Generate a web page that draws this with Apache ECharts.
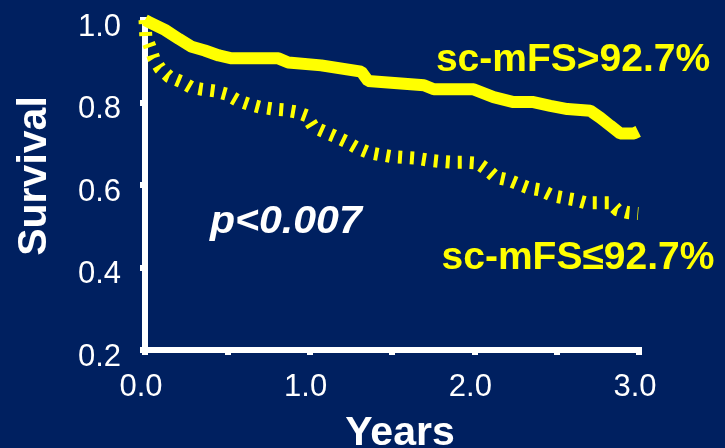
<!DOCTYPE html>
<html>
<head>
<meta charset="utf-8">
<script src="https://cdn.jsdelivr.net/npm/echarts@6/dist/echarts.min.js"></script>
<style>
  html, body { margin: 0; padding: 0; background: #002060; }
  #chart { width: 725px; height: 448px; }
</style>
</head>
<body>
<div id="chart"></div>
<script>
// Kaplan–Meier survival by sc-mFS group (years vs. survival probability)
const highYears = [0, 0.024, 0.121, 0.206, 0.284, 0.363, 0.448, 0.526, 0.81, 0.87, 1.07, 1.313, 1.355, 1.694, 1.754, 1.996, 2.117, 2.238, 2.359, 2.462, 2.565, 2.704, 2.765, 2.825, 2.886, 2.97, 2.995];
const highSurvival = [1.0, 0.995, 0.976, 0.954, 0.935, 0.926, 0.914, 0.907, 0.907, 0.897, 0.890, 0.875, 0.852, 0.842, 0.832, 0.832, 0.813, 0.801, 0.801, 0.792, 0.784, 0.780, 0.763, 0.744, 0.725, 0.725, 0.73];

const lowYears = [0, 0.005, 0.030, 0.054, 0.091, 0.145, 0.218, 0.278, 0.345, 0.423, 0.496, 0.557, 0.629, 0.696, 0.780, 0.847, 0.920, 0.980, 1.022, 1.089, 1.149, 1.222, 1.283, 1.355, 1.422, 1.494, 1.573, 1.645, 1.724, 1.797, 1.869, 1.942, 2.021, 2.081, 2.129, 2.208, 2.269, 2.329, 2.402, 2.474, 2.541, 2.613, 2.674, 2.825, 2.868, 2.934, 2.995];
const lowSurvival = [1.0, 0.96, 0.935, 0.907, 0.883, 0.863, 0.851, 0.837, 0.832, 0.828, 0.820, 0.806, 0.796, 0.789, 0.784, 0.782, 0.777, 0.768, 0.741, 0.729, 0.719, 0.705, 0.691, 0.679, 0.674, 0.669, 0.667, 0.665, 0.660, 0.657, 0.655, 0.655, 0.653, 0.636, 0.619, 0.612, 0.602, 0.593, 0.588, 0.574, 0.569, 0.564, 0.557, 0.557, 0.540, 0.533, 0.531];

const xTicks = [0, 0.5, 1.0, 1.5, 2.0, 2.5, 3.0];
const yTicks = [0.2, 0.4, 0.6, 0.8, 1.0];
const groupLabels = ['sc-mFS>92.7%', 'sc-mFS\u226492.7%'];
const pValueText = 'p<0.007';

const FONT = '"Liberation Sans", Arial, Helvetica, sans-serif';
const WHITE = '#ffffff';
const YELLOW = '#ffff00';

const pairs = (xs, ys) => xs.map((x, i) => [x, ys[i]]);

const chart = echarts.init(document.getElementById('chart'), null, { renderer: 'canvas' });

chart.setOption({
  backgroundColor: '#002060',
  animation: false,
  grid: { left: 145, right: 86, top: 20, bottom: 98 },
  xAxis: {
    type: 'value',
    min: xTicks[0],
    max: xTicks[xTicks.length - 1],
    interval: 0.5,
    axisLine: { onZero: false, lineStyle: { color: WHITE, width: 6, cap: 'square' } },
    axisTick: { show: true, length: 5, lineStyle: { color: WHITE, width: 6 } },
    splitLine: { show: false },
    axisLabel: {
      color: WHITE, fontSize: 31, fontFamily: FONT, margin: 22,
      padding: [0, 8, 0, 0],
      formatter: v => (Math.abs(v - Math.round(v)) < 1e-9 ? v.toFixed(1) : '')
    }
  },
  yAxis: {
    type: 'value',
    min: yTicks[0],
    max: yTicks[yTicks.length - 1],
    interval: 0.2,
    axisLine: { onZero: false, lineStyle: { color: WHITE, width: 6, cap: 'square' } },
    axisTick: { show: true, length: 5, lineStyle: { color: WHITE, width: 6 } },
    splitLine: { show: false },
    axisLabel: {
      color: WHITE, fontSize: 31, fontFamily: FONT, margin: 24,
      verticalAlign: 'top', lineHeight: 14,
      formatter: v => v.toFixed(1)
    }
  },
  series: [
    {
      name: groupLabels[1],
      type: 'line',
      data: pairs(lowYears, lowSurvival),
      showSymbol: false,
      symbol: 'none',
      z: 2,
      lineStyle: { color: YELLOW, width: 13, type: [4, 8], cap: 'butt', join: 'miter' }
    },
    {
      name: groupLabels[0],
      type: 'line',
      data: pairs(highYears, highSurvival),
      showSymbol: false,
      symbol: 'none',
      z: 3,
      lineStyle: { color: YELLOW, width: 12, type: 'solid', cap: 'butt', join: 'bevel' }
    }
  ],
  graphic: [
    {
      type: 'text', x: 35, y: 176, rotation: Math.PI / 2,
      style: { text: 'Survival', fill: WHITE, font: 'bold 41px ' + FONT, align: 'center', verticalAlign: 'middle' }
    },
    {
      type: 'text', x: 400, y: 413,
      style: { text: 'Years', fill: WHITE, font: 'bold 41px ' + FONT, align: 'center', verticalAlign: 'top' }
    },
    {
      type: 'text', x: 573, y: 41,
      style: { text: groupLabels[0], fill: YELLOW, font: 'bold 39px ' + FONT, align: 'center', verticalAlign: 'top' }
    },
    {
      type: 'text', x: 578, y: 239,
      style: { text: groupLabels[1], fill: YELLOW, font: 'bold 39px ' + FONT, align: 'center', verticalAlign: 'top' }
    },
    {
      type: 'text', x: 210, y: 204, scaleX: 1.08,
      style: { text: pValueText, fill: WHITE, font: 'italic bold 38px ' + FONT, align: 'left', verticalAlign: 'top' }
    }
  ]
});
</script>
</body>
</html>
